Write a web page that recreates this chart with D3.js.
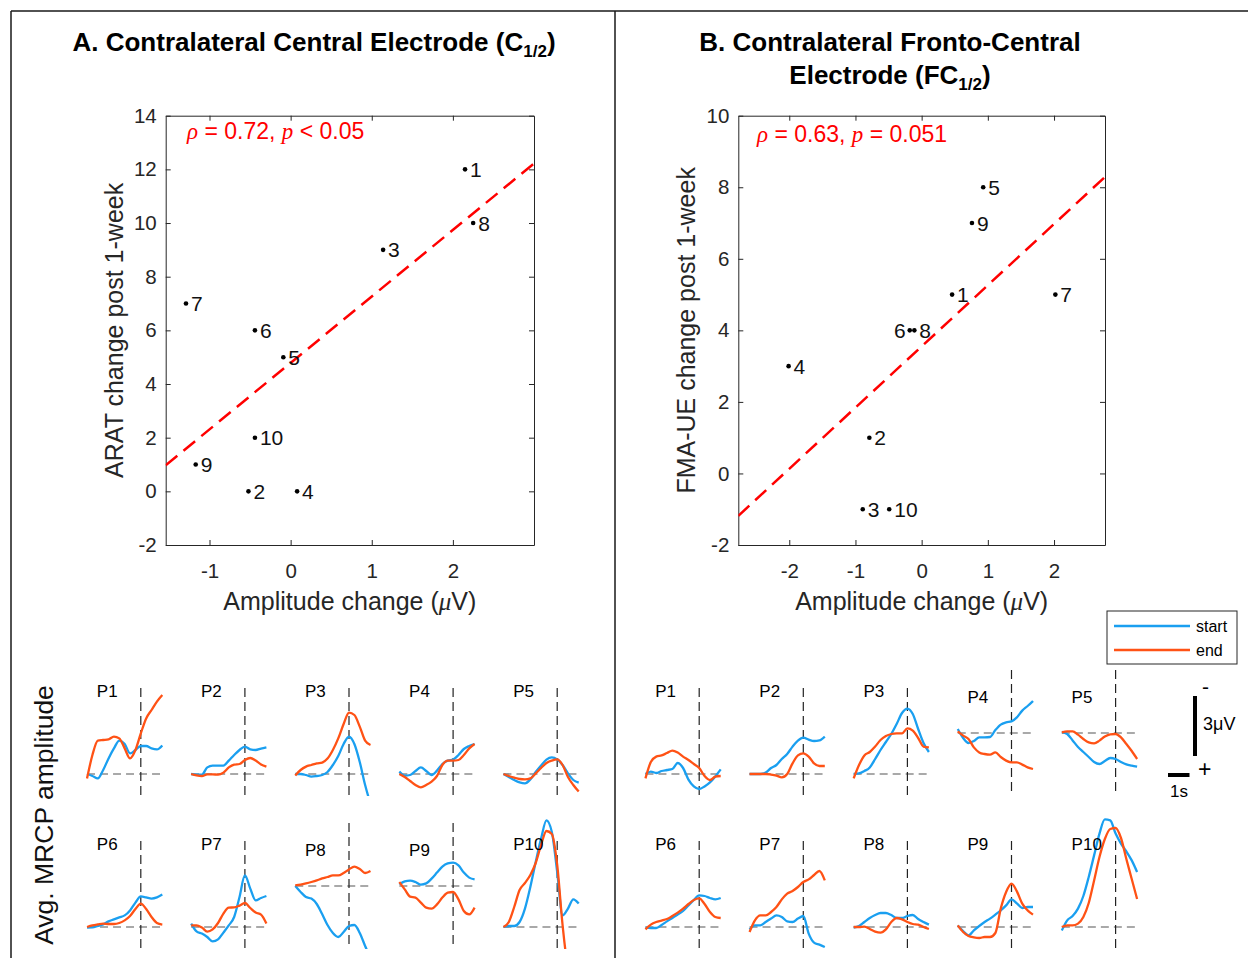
<!DOCTYPE html>
<html><head><meta charset="utf-8">
<script src="https://cdn.jsdelivr.net/npm/d3@7"></script>
<style>
body{margin:0;background:#fff}
svg{display:block}
text{font-family:"Liberation Sans",Arial,Helvetica,sans-serif}
</style>
</head><body>
<svg id="fig" width="1248" height="958"></svg>
<script>
// ---------------- DATA ----------------
const subjects = ["1","2","3","4","5","6","7","8","9","10"];
// Panel A: contralateral central electrode (C1/2)
const ampChangeC = [2.15, -0.52, 1.14, 0.08, -0.09, -0.44, -1.29, 2.25, -1.17, -0.44];
const aratChange = [12, 0, 9, 0, 5, 6, 7, 10, 1, 2];
// Panel B: contralateral fronto-central electrode (FC1/2)
const ampChangeFC = [0.46, -0.79, -0.89, -2.01, 0.93, -0.18, 2.02, -0.11, 0.76, -0.49];
const fmaChange = [5, 1, -1, 3, 8, 4, 5, 4, 7, -1];

const xTicksC = [-1, 0, 1, 2];
const yTicksC = [-2, 0, 2, 4, 6, 8, 10, 12, 14];
const xTicksFC = [-2, -1, 0, 1, 2];
const yTicksFC = [-2, 0, 2, 4, 6, 8, 10];
const xDomainC = [-1.54, 3.0];
const yDomainC = [-2, 14];
const xDomainFC = [-2.77, 2.77];
const yDomainFC = [-2, 10];

const rhoC = "0.72", pTextC = "< 0.05";
const rhoFC = "0.63", pTextFC = "= 0.051";

// MRCP averages (uV, negative = up), time in s relative to movement onset
const mrcpTime = [-2.5,-2.25,-2,-1.75,-1.5,-1.25,-1,-0.75,-0.5,-0.25,0,0.25,0.5,0.75,1];

const startC = [
  [0,0.1,0.22,-0.2,-0.78,-1.28,-1.67,-1.5,-1.03,-1.2,-1.4,-1.4,-1.28,-1.23,-1.43],
  [0,0.03,0.03,-0.33,-0.42,-0.42,-0.42,-0.67,-0.95,-1.2,-1.37,-1.23,-1.2,-1.27,-1.33],
  [0,0,0.05,0.13,0.1,0.05,-0.1,-0.45,-0.9,-1.5,-1.87,-1.5,-0.6,0.55,1.5],
  [-0.12,0.08,0.05,-0.15,-0.33,-0.15,0.05,-0.17,-0.5,-0.67,-0.72,-0.95,-1.25,-1.4,-1.5],
  [0,0.15,0.3,0.42,0.47,0.27,-0.1,-0.43,-0.72,-0.83,-0.73,-0.45,-0.03,0.3,0.43],
  [0.03,0.02,-0.05,-0.13,-0.28,-0.38,-0.48,-0.58,-0.83,-1.22,-1.53,-1.48,-1.42,-1.48,-1.62],
  [-0.17,0.22,0.33,0.5,0.72,0.62,0.28,-0.08,-0.5,-1.5,-2.58,-1.92,-1.33,-1.45,-1.55],
  [0,0.3,0.55,0.63,0.9,1.4,1.95,2.35,2.55,2.3,2.0,1.95,2.35,3.0,3.6],
  [-0.08,-0.23,-0.27,-0.2,-0.07,-0.13,-0.37,-0.67,-0.97,-1.13,-1.17,-1.03,-0.67,-0.42,-0.33],
  [0,-0.05,-0.05,-0.25,-0.92,-2.0,-3.25,-4.42,-5.33,-4.75,-2.75,-0.58,-0.92,-1.38,-1.17]
];
const endC = [
  [0.22,-0.95,-1.67,-1.7,-1.73,-1.87,-1.78,-1.28,-0.78,-1.2,-2.03,-2.78,-3.2,-3.62,-3.95],
  [0,0.07,0.1,0.02,0.02,0.03,-0.07,-0.33,-0.47,-0.5,-0.7,-0.8,-0.67,-0.48,-0.37],
  [0.07,-0.2,-0.37,-0.45,-0.53,-0.57,-0.77,-1.2,-1.78,-2.5,-3.07,-2.95,-2.37,-1.67,-1.45],
  [0,0.15,0.35,0.55,0.67,0.55,0.38,0.1,-0.45,-0.67,-0.67,-0.7,-0.95,-1.28,-1.5],
  [0,0.1,0.18,0.25,0.27,0.22,-0.03,-0.3,-0.55,-0.67,-0.73,-0.45,0.15,0.55,0.88],
  [0,-0.08,-0.13,-0.17,-0.15,-0.15,-0.2,-0.33,-0.55,-0.9,-1.17,-0.9,-0.5,-0.2,-0.12],
  [-0.08,-0.08,0.03,0.23,0.12,-0.2,-0.67,-0.97,-0.98,-1.07,-1.2,-0.95,-0.72,-0.62,-0.17],
  [-0.03,-0.07,-0.13,-0.2,-0.28,-0.38,-0.45,-0.53,-0.53,-0.65,-0.83,-0.97,-0.85,-0.65,-0.75],
  [-0.2,0.17,0.53,0.58,0.83,1.08,1.13,0.92,0.58,0.33,0.3,0.67,1.25,1.42,1.08],
  [0,-0.25,-1.0,-1.85,-2.2,-2.6,-3.2,-4.1,-4.8,-4.65,-3.1,-0.1,2.0,2.5,3.0]
];
const startFC = [
  [0,-0.12,-0.05,-0.15,-0.2,-0.25,-0.55,-0.3,0.28,0.62,0.75,0.62,0.42,0.12,-0.23],
  [0,0,0,-0.07,-0.3,-0.45,-0.75,-1.0,-1.37,-1.67,-1.82,-1.72,-1.65,-1.68,-1.87],
  [0,-0.03,-0.15,-0.33,-0.75,-1.2,-1.6,-2.0,-2.5,-3.05,-3.27,-3.0,-2.25,-1.55,-1.1],
  [-0.2,0.25,0.5,0.4,0.22,0.22,0.2,-0.15,-0.42,-0.53,-0.58,-0.78,-1.12,-1.35,-1.6],
  [-0.05,0.05,0.37,0.7,0.95,1.2,1.45,1.55,1.4,1.25,1.3,1.45,1.57,1.63,1.68],
  [0.03,0.05,0.05,-0.1,-0.28,-0.45,-0.62,-0.8,-1.08,-1.35,-1.58,-1.55,-1.45,-1.38,-1.45],
  [0.12,-0.08,-0.08,-0.25,-0.42,-0.58,-0.5,-0.28,-0.25,-0.42,-0.55,0.33,0.78,0.88,1.0],
  [0.03,-0.05,-0.25,-0.45,-0.6,-0.7,-0.7,-0.6,-0.45,-0.45,-0.55,-0.6,-0.4,-0.25,-0.12],
  [-0.08,0.2,0.42,0.17,-0.05,-0.25,-0.42,-0.62,-0.83,-1.08,-1.38,-1.18,-0.95,-1.0,-1.0],
  [0.17,-0.33,-0.55,-0.92,-1.55,-2.5,-3.58,-4.67,-5.38,-5.33,-4.67,-4.17,-3.78,-3.33,-2.75]
];
const endFC = [
  [0.22,-0.6,-0.87,-0.93,-1.05,-1.17,-1.07,-0.87,-0.7,-0.5,-0.3,0.1,0.3,0.13,0.1],
  [0,0,0,0,0.03,0.08,0.17,0,-0.53,-0.93,-1.03,-0.87,-0.53,-0.4,-0.4],
  [0.22,-0.45,-0.93,-1.1,-1.37,-1.7,-1.9,-2.0,-2.03,-2.03,-2.28,-2.17,-1.8,-1.37,-1.33],
  [-0.08,0.13,0.3,0.72,0.97,1.05,1.08,0.97,1.2,1.38,1.47,1.47,1.58,1.72,1.8],
  [-0.03,-0.08,-0.08,0.08,0.3,0.47,0.52,0.38,0.18,0.07,0.05,0.22,0.55,0.9,1.3],
  [0.12,-0.12,-0.25,-0.32,-0.4,-0.55,-0.72,-0.92,-1.15,-1.35,-1.43,-1.15,-0.75,-0.5,-0.45],
  [0.25,-0.33,-0.58,-0.58,-0.75,-1.0,-1.38,-1.67,-1.8,-2.0,-2.25,-2.38,-2.6,-2.8,-2.33],
  [0,0,-0.02,0.1,0.23,0.28,0.12,-0.25,-0.45,-0.38,-0.25,-0.15,-0.12,0,0.1],
  [-0.08,0.25,0.45,0.52,0.55,0.5,0.5,0.3,-0.92,-1.75,-2.17,-1.78,-1.17,-0.83,-0.62],
  [0,-0.08,-0.08,-0.17,-0.5,-1.2,-2.33,-3.5,-4.4,-4.9,-4.95,-4.45,-3.4,-2.4,-1.4]
];
// y-limits of each small axes (uV, [bottom, top])
const yLimLow = [1.1, -4.3];
const yLimMid = [3.15, -3.15];
const limTypeC  = ["low","low","low","low","low","low","low","mid","mid","low"];
const limTypeFC = ["low","low","low","mid","mid","low","low","low","low","low"];
const xLimMRCP = [-2.5, 1];

// ---------------- STYLE / LAYOUT ----------------
const BLUE = "#1a9ff0", ORANGE = "#ff5215", AX = "#262626";
const svg = d3.select("#fig");

// frame
svg.append("path").attr("d","M11,11H1248M11,11V958M615,11V958")
  .attr("stroke","#1a1a1a").attr("stroke-width",1.5).attr("fill","none");

const intFmt = d => d3.format("d")(d).replace("\u2212","-");

function scatterPanel(cfg){
  const x = d3.scaleLinear().domain(cfg.xDomain).range([cfg.left, cfg.right]);
  const y = d3.scaleLinear().domain(cfg.yDomain).range([cfg.bottom, cfg.top]);
  const g = svg.append("g");
  const styleAxis = sel => {
    sel.selectAll("path").attr("stroke", AX).attr("stroke-width", 1);
    sel.selectAll("line").attr("stroke", AX).attr("stroke-width", 1);
    sel.selectAll("text").attr("fill", AX).style("font-size","20.5px")
      .style("font-family",'"Liberation Sans",Arial,sans-serif');
  };
  g.append("g").attr("transform",`translate(0,${cfg.bottom})`)
    .call(d3.axisBottom(x).tickValues(cfg.xTicks).tickFormat(intFmt).tickSizeInner(-5).tickSizeOuter(0).tickPadding(18))
    .call(styleAxis);
  g.append("g").attr("transform",`translate(0,${cfg.top})`)
    .call(d3.axisTop(x).tickValues(cfg.xTicks).tickSizeInner(-5).tickSizeOuter(0).tickFormat(""))
    .call(styleAxis);
  g.append("g").attr("transform",`translate(${cfg.left},0)`)
    .call(d3.axisLeft(y).tickValues(cfg.yTicks).tickFormat(intFmt).tickSizeInner(-5).tickSizeOuter(0).tickPadding(9))
    .call(styleAxis);
  g.append("g").attr("transform",`translate(${cfg.right},0)`)
    .call(d3.axisRight(y).tickValues(cfg.yTicks).tickSizeInner(-5).tickSizeOuter(0).tickFormat(""))
    .call(styleAxis);
  g.selectAll(".domain").attr("fill","none");

  // least-squares fit line
  const n = cfg.xs.length;
  const mx = d3.mean(cfg.xs), my = d3.mean(cfg.ys);
  let sxy = 0, sxx = 0;
  for (let i=0;i<n;i++){ sxy += (cfg.xs[i]-mx)*(cfg.ys[i]-my); sxx += (cfg.xs[i]-mx)**2; }
  const b = sxy/sxx, a = my - b*mx;
  const clipId = "clip"+cfg.id;
  svg.append("clipPath").attr("id",clipId).append("rect")
    .attr("x",cfg.left).attr("y",cfg.top).attr("width",cfg.right-cfg.left).attr("height",cfg.bottom-cfg.top);
  g.append("line").attr("clip-path",`url(#${clipId})`)
    .attr("x1",x(cfg.xDomain[0])).attr("y1",y(a+b*cfg.xDomain[0]))
    .attr("x2",x(cfg.xDomain[1])).attr("y2",y(a+b*cfg.xDomain[1]))
    .attr("stroke","#ff0000").attr("stroke-width",2.5).attr("stroke-dasharray","15,8");

  // points + labels
  const pts = subjects.map((s,i)=>({s, x:cfg.xs[i], y:cfg.ys[i]}));
  g.selectAll("circle.pt").data(pts).enter().append("circle")
    .attr("cx",d=>x(d.x)).attr("cy",d=>y(d.y)).attr("r",2.3).attr("fill","#000");
  g.selectAll("text.lbl").data(pts).enter().append("text")
    .attr("x",d=> cfg.leftLabels.includes(d.s) ? x(d.x)-4 : x(d.x)+5)
    .attr("y",d=>y(d.y)+7.5)
    .attr("text-anchor",d=> cfg.leftLabels.includes(d.s) ? "end" : "start")
    .style("font-size","21px").attr("fill","#111").text(d=>d.s);

  // correlation text
  const t = g.append("text").attr("x",cfg.statX).attr("y",cfg.statY).attr("fill","#ff0000").style("font-size","23px");
  t.append("tspan").style("font-family",'"Liberation Serif","DejaVu Serif",serif').style("font-style","italic").text("\u03c1");
  t.append("tspan").text(` = ${cfg.rho}, `);
  t.append("tspan").style("font-family",'"Liberation Serif","DejaVu Serif",serif').style("font-style","italic").text("p");
  t.append("tspan").text(` ${cfg.pText}`);

  // axis labels
  const xl = g.append("text").attr("x",(cfg.left+cfg.right)/2).attr("y",610)
    .attr("text-anchor","middle").attr("fill",AX).style("font-size","25px");
  xl.append("tspan").text("Amplitude change (");
  xl.append("tspan").style("font-family",'"Liberation Serif","DejaVu Serif",serif').style("font-style","italic").text("\u03bc");
  xl.append("tspan").text("V)");
  g.append("text").attr("transform",`translate(${cfg.yLabelX},${(cfg.top+cfg.bottom)/2}) rotate(-90)`)
    .attr("text-anchor","middle").attr("fill",AX).style("font-size","25px").text(cfg.yLabel);
}

scatterPanel({id:"A", xs:ampChangeC, ys:aratChange, xDomain:xDomainC, yDomain:yDomainC,
  xTicks:xTicksC, yTicks:yTicksC, left:165.7, right:534, top:115.7, bottom:545,
  rho:rhoC, pText:pTextC, statX:187, statY:139, yLabel:"ARAT change post 1-week", yLabelX:123, leftLabels:[]});
scatterPanel({id:"B", xs:ampChangeFC, ys:fmaChange, xDomain:xDomainFC, yDomain:yDomainFC,
  xTicks:xTicksFC, yTicks:yTicksFC, left:738.3, right:1105, top:115.7, bottom:545,
  rho:rhoFC, pText:pTextFC, statX:757, statY:142, yLabel:"FMA-UE change post 1-week", yLabelX:695, leftLabels:["6"]});

// titles
function title(x, y, parts){
  const t = svg.append("text").attr("x",x).attr("y",y).attr("text-anchor","middle")
    .style("font-size","26px").style("font-weight","bold").attr("fill","#000");
  parts.forEach(p=>{
    const ts = t.append("tspan").text(p.t);
    if (p.sub) ts.style("font-size","17px").attr("dy",6);
    if (p.up) ts.attr("dy",-6);
  });
}
title(314, 51, [{t:"A. Contralateral Central Electrode (C"},{t:"1/2",sub:true},{t:")",up:true}]);
title(890, 51, [{t:"B. Contralateral Fronto-Central"}]);
title(890, 84, [{t:"Electrode (FC"},{t:"1/2",sub:true},{t:")",up:true}]);

// ---------------- MRCP small multiples ----------------
const PX_PER_S = 21.5, PX_PER_UV = 20;
const colStep = 104.1;
const groupVline = [140.8, 699.2];
const rowBottom = [796, 949];

function mrcpGroup(gi, starts, ends, limTypes){
  starts.forEach((sv, i)=>{
    const row = Math.floor(i/5), col = i%5;
    const vx = groupVline[gi] + col*colStep;
    const bottom = rowBottom[row];
    const lim = limTypes[i]==="mid" ? yLimMid : yLimLow;
    const xs = d3.scaleLinear().domain(xLimMRCP).range([vx + xLimMRCP[0]*PX_PER_S, vx + xLimMRCP[1]*PX_PER_S]);
    const ys = d3.scaleLinear().domain(lim).range([bottom, bottom - (lim[0]-lim[1])*PX_PER_UV]);
    const g = svg.append("g");
    const cid = `mc${gi}_${i}`;
    svg.append("clipPath").attr("id",cid).append("rect")
      .attr("x",xs.range()[0]-3).attr("y",bottom-300).attr("width",xs.range()[1]-xs.range()[0]+6).attr("height",300);
    // crosshair
    g.append("line").attr("x1",xs(xLimMRCP[0])).attr("x2",xs(xLimMRCP[1])).attr("y1",ys(0)).attr("y2",ys(0))
      .attr("stroke","#555").attr("stroke-width",1.2).attr("stroke-dasharray","8,5");
    g.append("line").attr("x1",xs(0)).attr("x2",xs(0)).attr("y1",ys(lim[1])).attr("y2",ys(lim[0]))
      .attr("stroke","#222").attr("stroke-width",1.2).attr("stroke-dasharray","9,5");
    const line = d3.line().x((d,k)=>xs(mrcpTime[k])).y(d=>ys(d)).curve(d3.curveMonotoneX);
    g.append("path").attr("d",line(sv)).attr("clip-path",`url(#${cid})`)
      .attr("fill","none").attr("stroke",BLUE).attr("stroke-width",2.3);
    g.append("path").attr("d",line(ends[i])).attr("clip-path",`url(#${cid})`)
      .attr("fill","none").attr("stroke",ORANGE).attr("stroke-width",2.3);
    g.append("text").attr("x",vx-44).attr("y", bottom - (limTypes[i]==="mid" ? 93 : 99))
      .style("font-size","17px").attr("fill","#000").text("P"+(i+1));
  });
}
mrcpGroup(0, startC, endC, limTypeC);
mrcpGroup(1, startFC, endFC, limTypeFC);

svg.append("text").attr("transform","translate(53,815) rotate(-90)").attr("text-anchor","middle")
  .style("font-size","26.5px").attr("fill","#111").text("Avg. MRCP amplitude");

// legend
const lg = svg.append("g");
lg.append("rect").attr("x",1107).attr("y",611).attr("width",130).attr("height",53)
  .attr("fill","#fff").attr("stroke",AX).attr("stroke-width",1);
[["start",BLUE,626],["end",ORANGE,650]].forEach(([lab,c,yy])=>{
  lg.append("line").attr("x1",1114).attr("x2",1190).attr("y1",yy).attr("y2",yy).attr("stroke",c).attr("stroke-width",2.3);
  lg.append("text").attr("x",1196).attr("y",yy+6).style("font-size","16px").attr("fill","#000").text(lab);
});

// scale bars
const sbY = d3.scaleLinear().domain([0,3]).range([756, 756-3*PX_PER_UV]);
const sbX = d3.scaleLinear().domain([0,1]).range([1168, 1168+PX_PER_S]);
svg.append("line").attr("x1",1195).attr("x2",1195).attr("y1",sbY(0)).attr("y2",sbY(3))
  .attr("stroke","#000").attr("stroke-width",4);
svg.append("line").attr("x1",sbX(0)).attr("x2",sbX(1)).attr("y1",775).attr("y2",775)
  .attr("stroke","#000").attr("stroke-width",4);
svg.append("text").attr("x",1202).attr("y",694).style("font-size","21px").attr("fill","#000").text("-");
svg.append("text").attr("x",1198).attr("y",777).style("font-size","23px").attr("fill","#000").text("+");
svg.append("text").attr("x",1203).attr("y",730).style("font-size","18px").attr("fill","#000").text("3\u03bcV");
svg.append("text").attr("x",1179).attr("y",797).attr("text-anchor","middle").style("font-size","17px").attr("fill","#000").text("1s");
</script>
</body></html>
